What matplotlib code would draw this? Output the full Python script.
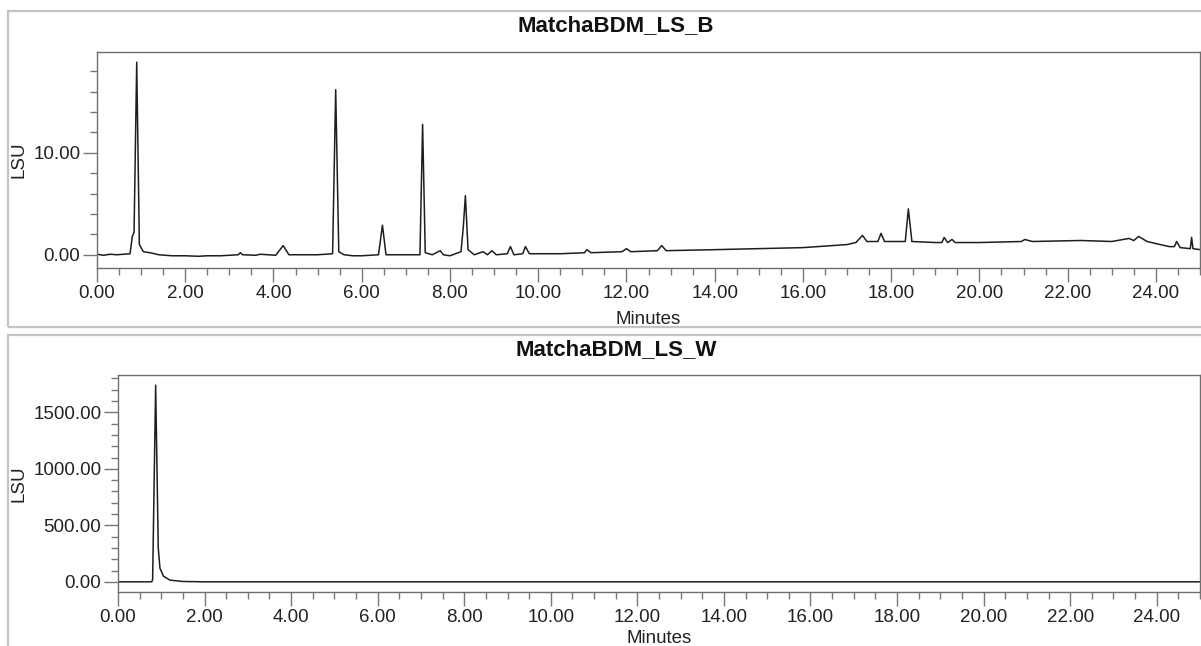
import matplotlib
matplotlib.use("Agg")
import matplotlib.pyplot as plt
from matplotlib.patches import Rectangle
from matplotlib.ticker import MultipleLocator, FormatStrFormatter

plt.rcParams['font.family'] = ['Liberation Sans', 'DejaVu Sans']

# top trace (MatchaBDM_LS_B), retention time in minutes / LSU
top_title = "MatchaBDM_LS_B"
top_time = [0.00, 0.15, 0.30, 0.45, 0.60, 0.75, 0.80, 0.84, 0.90, 0.96, 1.05, 1.20, 1.40,
            1.70, 2.00, 2.30, 2.50, 2.80, 3.20, 3.25, 3.30, 3.60, 3.70, 4.05, 4.22, 4.35,
            4.60, 5.00, 5.34, 5.41, 5.48, 5.60, 5.80, 6.00, 6.38, 6.47, 6.55, 7.00, 7.32,
            7.38, 7.44, 7.60, 7.78, 7.85, 8.00, 8.25, 8.30, 8.35, 8.41, 8.55, 8.75, 8.85,
            8.95, 9.05, 9.30, 9.37, 9.45, 9.65, 9.71, 9.80, 10.50, 11.05, 11.10, 11.20,
            11.90, 12.00, 12.10, 12.70, 12.80, 12.90, 14.00, 15.00, 16.00, 17.00, 17.20,
            17.35, 17.45, 17.70, 17.77, 17.85, 18.32, 18.39, 18.47, 19.00, 19.15, 19.20,
            19.28, 19.38, 19.45, 20.00, 20.95, 21.03, 21.20, 22.30, 23.00, 23.39, 23.50,
            23.61, 23.80, 24.30, 24.42, 24.47, 24.55, 24.78, 24.81, 24.84, 25.00]
top_lsu = [0.05, -0.05, 0.05, 0.0, 0.05, 0.1, 1.8, 2.2, 18.9, 1.0, 0.3, 0.2, 0.0,
           -0.1, -0.1, -0.15, -0.1, -0.1, 0.0, 0.2, 0.0, -0.05, 0.05, -0.05, 0.9, 0.0,
           0.0, 0.0, 0.1, 16.2, 0.3, 0.0, -0.1, -0.1, 0.0, 2.9, 0.0, 0.0, 0.0,
           12.8, 0.2, 0.0, 0.4, 0.0, -0.1, 0.3, 2.6, 5.8, 0.5, 0.0, 0.3, 0.0,
           0.4, 0.0, 0.1, 0.8, 0.0, 0.1, 0.8, 0.1, 0.1, 0.2, 0.5, 0.2,
           0.3, 0.6, 0.3, 0.4, 0.9, 0.4, 0.5, 0.6, 0.7, 1.0, 1.2,
           1.9, 1.3, 1.3, 2.1, 1.3, 1.3, 4.5, 1.3, 1.2, 1.2, 1.7,
           1.2, 1.5, 1.2, 1.2, 1.3, 1.5, 1.3, 1.4, 1.3, 1.6, 1.4,
           1.8, 1.3, 0.8, 0.8, 1.3, 0.7, 0.6, 1.7, 0.6, 0.5]

# bottom trace (MatchaBDM_LS_W)
bottom_title = "MatchaBDM_LS_W"
bottom_time = [0.00, 0.78, 0.80, 0.87, 0.93, 0.97, 1.05, 1.20, 1.50, 2.00, 25.00]
bottom_lsu = [0.0, 0.0, 20.0, 1740.0, 300.0, 120.0, 50.0, 15.0, 3.0, 0.0, 0.0]

fig = plt.figure(figsize=(12.01, 6.46), dpi=100)
W, H = 1201.0, 646.0

def px_axes(l, t, r, b):
    return fig.add_axes([l / W, 1 - b / H, (r - l) / W, (b - t) / H])

ax1 = px_axes(97, 52, 1200, 268)
ax2 = px_axes(118, 375, 1200, 592)

# light gray panel frames
fig.add_artist(Rectangle((8 / W, 1 - 327 / H), 1.0, (327 - 11) / H, transform=fig.transFigure,
                         fill=False, ec='#c4c4c4', lw=1.6, clip_on=False))
fig.add_artist(Rectangle((8 / W, -0.1), 1.0, (0.1 + 1 - 335 / H), transform=fig.transFigure,
                         fill=False, ec='#c4c4c4', lw=1.6, clip_on=False))

def style(ax, t, y, title, ylim, ymaj, ymin, title_y, xpad):
    ax.plot(t, y, color='#1e1e1e', lw=1.1)
    ax.set_xlim(0, 25)
    ax.set_ylim(*ylim)
    ax.xaxis.set_major_locator(MultipleLocator(2))
    ax.xaxis.set_minor_locator(MultipleLocator(0.5))
    ax.yaxis.set_major_locator(MultipleLocator(ymaj))
    ax.yaxis.set_minor_locator(MultipleLocator(ymin))
    ax.xaxis.set_major_formatter(FormatStrFormatter('%.2f'))
    ax.yaxis.set_major_formatter(FormatStrFormatter('%.2f'))
    for s in ax.spines.values():
        s.set_color('#6e6e6e')
        s.set_linewidth(1.0)
    ax.tick_params(axis='both', which='major', length=10, width=1, color='#777777',
                   labelsize=13.5, labelcolor='#222222', pad=2)
    ax.tick_params(axis='both', which='minor', length=5, width=1, color='#777777')
    ax.set_xlabel("Minutes", fontsize=13.5, color='#222222', labelpad=xpad)
    ax.set_ylabel("LSU", fontsize=13.5, color='#222222', labelpad=4)
    fig.text(0.513, title_y, title, fontsize=16, fontweight='bold',
             ha='center', va='center', color='#111111')

style(ax1, top_time, top_lsu, top_title, (-1.3, 19.9), 10, 2, 1 - 26 / H, 7)
style(ax2, bottom_time, bottom_lsu, bottom_title, (-90, 1830), 500, 100, 1 - 350 / H, 3)

fig.savefig("out.png", dpi=100)
